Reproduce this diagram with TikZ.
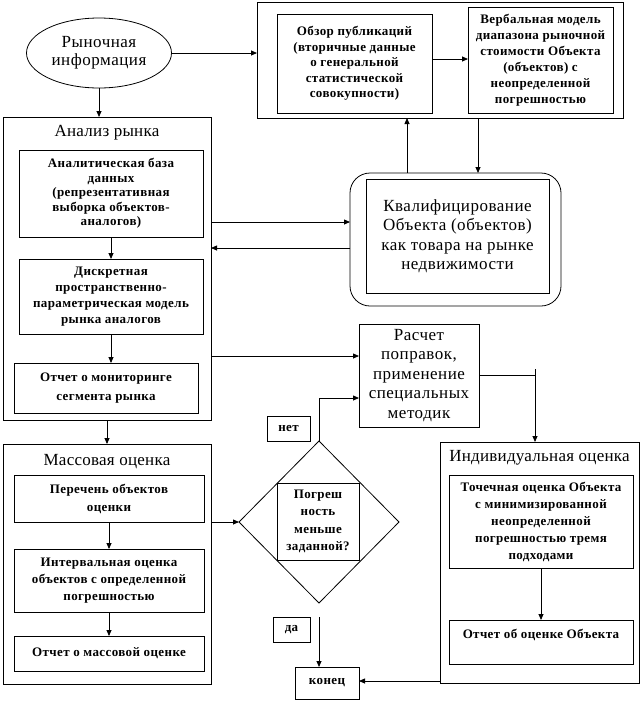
\documentclass[tikz,border=0pt]{standalone}
\usepackage{fontspec}
\setmainfont{Liberation Serif}
\usetikzlibrary{arrows.meta,shapes.geometric,calc}
\begin{document}
\begin{tikzpicture}[x=1pt,y=-1pt,
  every node/.style={inner sep=0pt, outer sep=0pt},
  box/.style={draw, line width=0.8pt, rectangle, align=center},
  arr/.style={line width=0.8pt, -{Triangle[length=6pt,width=5pt]}},
  ln/.style={line width=0.8pt},
  bsm/.style={font=\fontsize{13}{#1}\selectfont\bfseries\addfontfeature{LetterSpace=3}},
  rg/.style={font=\fontsize{17}{#1}\selectfont\addfontfeature{LetterSpace=3}},
  ttl/.style={font=\fontsize{17}{20}\selectfont\addfontfeature{LetterSpace=1.5}}
]
\fill[white] (0,0) rectangle (642,702);
\useasboundingbox (0,0) rectangle (642,702);

% top
\node[ellipse, draw, line width=0.8pt, minimum width=145pt, minimum height=70pt, align=center, rg=18] (ell) at (99,53) {Рыночная\\информация};
\node[box, minimum width=366pt, minimum height=116pt] (top) at (440,60) {};
\node[box, minimum width=155pt, minimum height=99pt, bsm=15.5] (obz) at (354.5,63.5) {Обзор публикаций\\(вторичные данные\\о генеральной\\статистической\\совокупности)};
\node[box, minimum width=145pt, minimum height=106pt, bsm=16] (verb) at (540.5,60) {Вербальная модель\\диапазона рыночной\\стоимости Объекта\\(объектов) с\\неопределенной\\погрешностью};

% qualification
\node[draw, line width=0.8pt, rounded corners=20pt, minimum width=211pt, minimum height=133pt] (kvo) at (455.5,239.5) {};
\node[box, minimum width=183pt, minimum height=114pt, rg=19.5] (kvi) at (457.5,236) {Квалифицирование\\Объекта (объектов)\\как товара на рынке\\недвижимости};

% market analysis
\node[box, minimum width=208pt, minimum height=303pt,
  label={[ttl, anchor=center, yshift=-16pt]north:Анализ рынка}] (an) at (107,268.5) {};
\node[box, minimum width=184pt, minimum height=87pt, bsm=14.5] (adb) at (111,193.5) {Аналитическая база\\данных\\(репрезентативная\\выборка объектов-\\аналогов)};
\node[box, minimum width=184pt, minimum height=75pt, bsm=16] (disc) at (111,296.5) {Дискретная\\пространственно-\\параметрическая модель\\рынка аналогов};
\node[box, minimum width=184pt, minimum height=50pt, bsm=19] (mon) at (106,388) {Отчет о мониторинге\\сегмента рынка};

% mass valuation
\node[box, minimum width=208pt, minimum height=240pt,
  label={[ttl, anchor=center, yshift=-18pt]north:Массовая оценка}] (mass) at (107,564) {};
\node[box, minimum width=190pt, minimum height=47pt, bsm=18] (per) at (109,498.5) {Перечень объектов\\оценки};
\node[box, minimum width=190pt, minimum height=63pt, bsm=17] (intv) at (109,580.5) {Интервальная оценка\\объектов с определенной\\погрешностью};
\node[box, minimum width=190pt, minimum height=35pt, bsm=16] (otm) at (109,653.5) {Отчет о массовой оценке};

% middle
\node[box, minimum width=120pt, minimum height=103pt, rg=19.5] (rasch) at (419,375.5) {Расчет\\поправок,\\применение\\специальных\\методик};
\node[diamond, draw, line width=0.8pt, minimum width=160pt, minimum height=162pt] (dia) at (319,522) {};
\node[box, minimum width=82pt, minimum height=77pt, bsm=17.5] (diain) at (318,521.5) {Погреш\\ность\\меньше\\заданной?};
\node[box, minimum width=43pt, minimum height=25pt, bsm=15] (net) at (288.5,428.5) {нет};
\node[box, minimum width=37pt, minimum height=25pt, bsm=15] (da) at (291.5,629.5) {да};
\node[box, minimum width=64pt, minimum height=32pt, bsm=15] (kon) at (327,683) {конец};

% individual valuation
\node[box, minimum width=199pt, minimum height=241pt,
  label={[ttl, anchor=center, yshift=-16pt]north:Индивидуальная оценка}] (ind) at (539.5,562.5) {};
\node[box, minimum width=184pt, minimum height=93pt, bsm=17] (toch) at (541,521.5) {Точечная оценка Объекта\\с минимизированной\\неопределенной\\погрешностью тремя\\подходами};
\node[box, minimum width=184pt, minimum height=44pt, bsm=16] (oto) at (541,642) {Отчет об оценке Объекта\\\mbox{}};

% connectors
\draw[arr] (ell.east) -- (ell.east -| top.west);
\draw[arr] (ell.south) -- (ell.south |- an.north);
\coordinate (o1) at ($(obz.east)+(0,-4.5)$);
\draw[arr] (o1) -- (o1 -| verb.west);
\coordinate (k1) at ($(kvo.north)+(-48.5,0)$);
\draw[arr] (k1) -- (k1 |- top.south);
\coordinate (k2) at ($(kvo.north)+(22.5,0)$);
\draw[arr] (k2 |- top.south) -- (k2);
\coordinate (k3) at ($(kvo.west)+(0,-17.5)$);
\draw[arr] (k3 -| an.east) -- (k3);
\coordinate (k4) at ($(kvo.west)+(0,8.5)$);
\draw[arr] (k4) -- (k4 -| an.east);
\coordinate (r1) at ($(rasch.west)+(0,-19.5)$);
\draw[arr] (r1 -| an.east) -- (r1);

\draw[arr] (adb.south) -- (disc.north);
\draw[arr] (disc.south) -- (disc.south |- mon.north);
\draw[arr] (an.south) -- (mass.north);
\draw[arr] (per.south) -- (intv.north);
\draw[arr] (intv.south) -- (otm.north);

\draw[arr] (dia.west -| mass.east) -- (dia.west);
\coordinate (n1) at ($(rasch.west)+(0,22.5)$);
\draw[arr] (dia.north) |- (n1);
\coordinate (d1) at ($(dia.south)+(0,14)$);
\draw[arr] (d1) -- (d1 |- kon.north);

\coordinate (jt) at ($(ind.north)+(-4.5,-73)$);
\draw[ln] (rasch.east) -- (rasch.east -| jt);
\draw[arr] (jt) -- (jt |- ind.north);
\draw[arr] (toch.south) -- (oto.north);
\coordinate (ik) at ($(ind.south west)+(0,-2)$);
\draw[arr] (ik) -- (ik -| kon.east);
\end{tikzpicture}
\end{document}
